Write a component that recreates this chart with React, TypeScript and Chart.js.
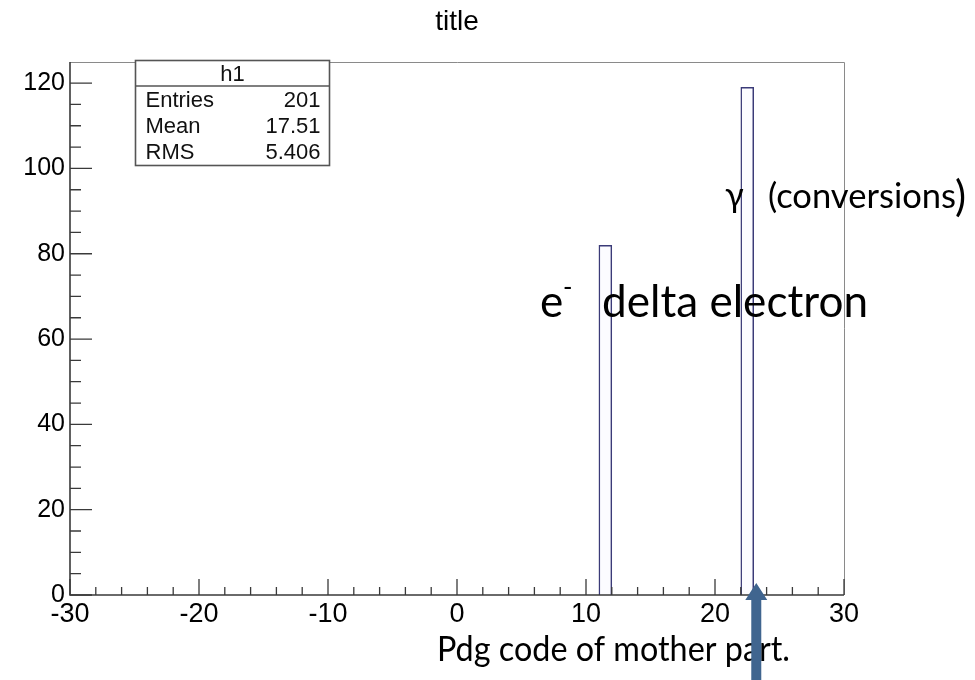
import { useEffect, useRef } from "react";
import { Chart, registerables } from "chart.js";

Chart.register(...registerables);

// Histogram h1: PDG code of the mother particle, 60 unit-wide bins on [-30, 30)
const binLowEdges: number[] = [];
for (let v = -30; v < 30; v++) binLowEdges.push(v);
const filledBins = [11, 22];
const filledCounts = [82, 119];
const xMajorTicks = [-30, -20, -10, 0, 10, 20, 30];
const yMajorTicks = [0, 20, 40, 60, 80, 100, 120];
const statsLabels = ["Entries", "Mean", "RMS"];
const statsValues = ["201", "17.51", "5.406"];
const histName = "h1";
const histTitle = "title";
const yMaximum = 1.05 * Math.max(...filledCounts);
const arrowTarget = 23.2;

const counts = binLowEdges.map((edge) => {
  const k = filledBins.indexOf(edge);
  return k >= 0 ? filledCounts[k] : 0;
});

const AXIS_FONT = "'Liberation Sans', Arial, sans-serif";
const NOTE_FONT = "Lato, 'Open Sans', sans-serif";

// horizontal squeeze that brings `text` at `size` to `width`
function squeezeFor(ctx: CanvasRenderingContext2D, text: string, size: number, width: number) {
  ctx.font = `${size}px ${NOTE_FONT}`;
  return width / ctx.measureText(text).width;
}

function noteText(ctx: CanvasRenderingContext2D, text: string, x: number, baseline: number, size: number, sx: number) {
  ctx.font = `${size}px ${NOTE_FONT}`;
  ctx.save();
  ctx.translate(x, baseline);
  ctx.scale(sx, 1);
  ctx.fillText(text, 0, 0);
  ctx.restore();
}

// ROOT-style frame: axes with inward ticks, stats box, title and slide notes
const rootFrame = {
  id: "rootFrame",
  afterDatasetsDraw(chart: any) {
    const { ctx, chartArea: a, scales } = chart;
    const xs = scales.x;
    const ys = scales.y;
    ctx.save();

    // thin outer frame (top and right)
    ctx.strokeStyle = "#8a8a8a";
    ctx.lineWidth = 1;
    ctx.beginPath();
    ctx.moveTo(a.left, a.top + 0.5);
    ctx.lineTo(a.right + 0.5, a.top + 0.5);
    ctx.lineTo(a.right + 0.5, a.bottom);
    ctx.stroke();

    // axes
    ctx.strokeStyle = "#3a3a3a";
    ctx.lineWidth = 1.6;
    ctx.beginPath();
    ctx.moveTo(a.left, a.top);
    ctx.lineTo(a.left, a.bottom);
    ctx.lineTo(a.right, a.bottom);
    ctx.stroke();

    // x ticks: major every 10, minor every 2, pointing up
    ctx.lineWidth = 1.3;
    ctx.beginPath();
    for (let v = -30; v <= 30; v += 2) {
      const px = xs.getPixelForValue(v);
      const len = v % 10 === 0 ? 16 : 8;
      ctx.moveTo(px, a.bottom);
      ctx.lineTo(px, a.bottom - len);
    }
    // y ticks: major every 20, minor every 5, pointing right
    for (let v = 0; v <= 120; v += 5) {
      const py = ys.getPixelForValue(v);
      const len = v % 20 === 0 ? 22 : 11;
      ctx.moveTo(a.left, py);
      ctx.lineTo(a.left + len, py);
    }
    ctx.stroke();

    // title
    ctx.fillStyle = "#000";
    ctx.font = `28px ${AXIS_FONT}`;
    ctx.textAlign = "center";
    ctx.textBaseline = "alphabetic";
    ctx.fillText(histTitle, xs.getPixelForValue(0), 30);

    // stats box
    const bx = 135.5, by = 60.5, bw = 194, bh = 105;
    ctx.fillStyle = "#fff";
    ctx.fillRect(bx, by, bw, bh);
    ctx.strokeStyle = "#555";
    ctx.lineWidth = 1.6;
    ctx.strokeRect(bx, by, bw, bh);
    ctx.beginPath();
    ctx.moveTo(bx, by + 25.5);
    ctx.lineTo(bx + bw, by + 25.5);
    ctx.stroke();
    ctx.fillStyle = "#111";
    ctx.font = `22px ${AXIS_FONT}`;
    ctx.textAlign = "center";
    ctx.textBaseline = "middle";
    ctx.fillText(histName, bx + bw / 2, by + 14);
    statsLabels.forEach((lab, i) => {
      const ty = by + 40 + i * 26.2;
      ctx.textAlign = "left";
      ctx.fillText(lab, bx + 10, ty);
      ctx.textAlign = "right";
      ctx.fillText(statsValues[i], bx + bw - 9, ty);
    });

    // notes over the plot
    ctx.fillStyle = "#000";
    ctx.textAlign = "left";
    ctx.textBaseline = "alphabetic";
    const sConv = squeezeFor(ctx, "(conversions", 35, 188);
    noteText(ctx, "γ", 725, 207, 35, sConv);
    noteText(ctx, "(conversions", 768, 208, 35, sConv);
    noteText(ctx, ")", 955, 211, 42, sConv);
    const sDelta = squeezeFor(ctx, "delta electron", 45, 266);
    noteText(ctx, "e", 540, 317, 45, sDelta);
    noteText(ctx, "-", 563, 296, 26, sDelta);
    noteText(ctx, "delta electron", 602, 317, 45, sDelta);
    const sPdg = squeezeFor(ctx, "Pdg code of mother part.", 35, 353);
    noteText(ctx, "Pdg code of mother part.", 437, 661, 35, sPdg);

    // arrow pointing at the gamma bin
    const ax = xs.getPixelForValue(arrowTarget);
    ctx.fillStyle = "#40658f";
    ctx.beginPath();
    ctx.moveTo(ax - 5, 680);
    ctx.lineTo(ax - 5, 600);
    ctx.lineTo(ax - 11, 600);
    ctx.lineTo(ax, 583);
    ctx.lineTo(ax + 11, 600);
    ctx.lineTo(ax + 5, 600);
    ctx.lineTo(ax + 5, 680);
    ctx.closePath();
    ctx.fill();

    ctx.restore();
  },
};

export default function App() {
  const canvasRef = useRef<HTMLCanvasElement | null>(null);

  useEffect(() => {
    const canvas = canvasRef.current;
    if (!canvas) return;
    const chart = new Chart(canvas, {
      type: "bar",
      data: {
        labels: binLowEdges.map(String),
        datasets: [
          {
            label: histName,
            data: counts,
            xAxisID: "xc",
            yAxisID: "y",
            backgroundColor: "#fcfcff",
            borderColor: "#3b3b78",
            borderWidth: 1.5,
            barPercentage: 1,
            categoryPercentage: 1,
          },
        ],
      },
      options: {
        responsive: false,
        animation: false,
        devicePixelRatio: 1,
        layout: { padding: { left: 8, right: 131, top: 62, bottom: 0 } },
        plugins: {
          legend: { display: false },
          title: { display: false },
          tooltip: { enabled: false },
        },
        scales: {
          xc: {
            type: "category",
            display: false,
            offset: true,
          },
          x: {
            type: "linear",
            position: "bottom",
            offset: false,
            min: -30,
            max: 30,
            afterBuildTicks: (s: any) => {
              s.ticks = xMajorTicks.map((v) => ({ value: v }));
            },
            afterFit: (s: any) => {
              s.height = 85;
            },
            grid: { display: false, drawTicks: false, offset: false },
            border: { display: false },
            ticks: {
              color: "#000",
              padding: 3,
              maxRotation: 0,
              autoSkip: false,
              font: { family: AXIS_FONT, size: 27 },
            },
          },
          y: {
            type: "linear",
            min: 0,
            max: yMaximum,
            afterBuildTicks: (s: any) => {
              s.ticks = yMajorTicks.map((v) => ({ value: v }));
            },
            afterFit: (s: any) => {
              s.width = 62;
            },
            grid: { display: false, drawTicks: false },
            border: { display: false },
            ticks: {
              color: "#000",
              padding: 5,
              autoSkip: false,
              font: { family: AXIS_FONT, size: 25 },
            },
          },
        },
      },
      plugins: [rootFrame],
    });
    return () => chart.destroy();
  }, []);

  return (
    <div style={{ position: "absolute", left: 0, top: 0, width: 975, height: 680, background: "#fff" }}>
      <canvas ref={canvasRef} width={975} height={680} />
    </div>
  );
}
